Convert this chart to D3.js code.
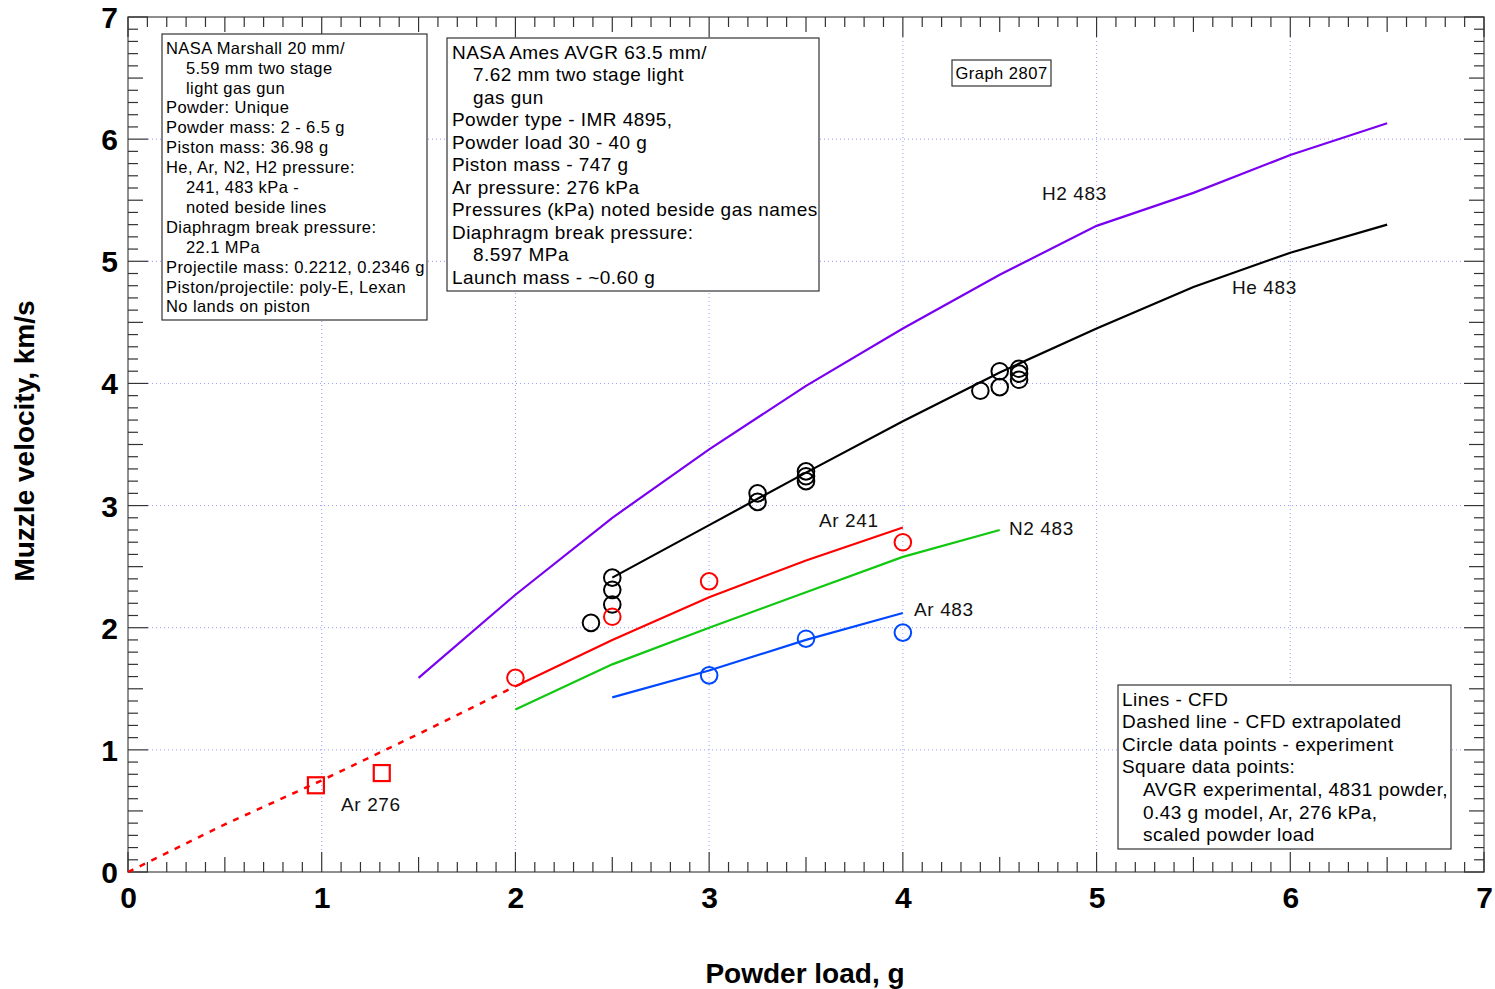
<!DOCTYPE html>
<html>
<head>
<meta charset="utf-8">
<script src="https://cdn.jsdelivr.net/npm/d3@7/dist/d3.min.js"></script>
<style>
  html, body { margin: 0; padding: 0; background: #fff; }
  svg { display: block; font-family: Arial, "Liberation Sans", sans-serif; }
</style>
</head>
<body>
<svg id="chart" width="1495" height="989"></svg>
<script>
// Axis ticks
const xTickValues = [0, 1, 2, 3, 4, 5, 6, 7];
const yTickValues = [0, 1, 2, 3, 4, 5, 6, 7];

// CFD curves (powder load g -> muzzle velocity km/s)
const h2Load = [1.5, 2.0, 2.5, 3.0, 3.5, 4.0, 4.5, 5.0, 5.5, 6.0, 6.5];
const h2Vel  = [1.59, 2.27, 2.90, 3.46, 3.98, 4.45, 4.89, 5.29, 5.56, 5.87, 6.13];

const heLoad = [2.5, 3.0, 3.5, 4.0, 4.5, 5.0, 5.5, 6.0, 6.5];
const heVel  = [2.41, 2.84, 3.27, 3.69, 4.09, 4.45, 4.79, 5.07, 5.30];

const ar241Load = [2.0, 2.5, 3.0, 3.5, 4.0];
const ar241Vel  = [1.52, 1.90, 2.25, 2.55, 2.82];

const ar241ExtLoad = [0, 0.5, 1.0, 1.5, 2.0];
const ar241ExtVel  = [0, 0.39, 0.75, 1.13, 1.52];

const n2Load = [2.0, 2.5, 3.0, 3.5, 4.0, 4.5];
const n2Vel  = [1.33, 1.70, 2.00, 2.29, 2.58, 2.80];

const ar483Load = [2.5, 3.0, 3.5, 4.0];
const ar483Vel  = [1.43, 1.65, 1.90, 2.12];

// Experimental shots
const heExpLoad = [2.39, 2.5, 2.5, 2.5, 3.25, 3.25, 3.5, 3.5, 3.5, 4.4, 4.5, 4.5, 4.6, 4.6, 4.6];
const heExpVel  = [2.04, 2.41, 2.31, 2.19, 3.10, 3.03, 3.28, 3.24, 3.20, 3.94, 4.10, 3.97, 4.12, 4.08, 4.03];

const ar241ExpLoad = [2.0, 2.5, 3.0, 4.0];
const ar241ExpVel  = [1.59, 2.09, 2.38, 2.70];

const ar483ExpLoad = [3.0, 3.5, 4.0];
const ar483ExpVel  = [1.61, 1.91, 1.96];

const avgrLoad = [0.97, 1.31];
const avgrVel  = [0.71, 0.81];

// Text blocks
const marshallLines = [
  ["NASA Marshall 20 mm/", 0],
  ["5.59 mm  two stage", 1],
  ["light gas gun", 1],
  ["Powder: Unique", 0],
  ["Powder mass: 2 - 6.5 g", 0],
  ["Piston mass: 36.98 g", 0],
  ["He, Ar, N2, H2 pressure:", 0],
  ["241, 483 kPa -", 1],
  ["noted beside lines", 1],
  ["Diaphragm break pressure:", 0],
  ["22.1 MPa", 1],
  ["Projectile mass: 0.2212, 0.2346 g", 0],
  ["Piston/projectile: poly-E, Lexan", 0],
  ["No lands on piston", 0]
];
const amesLines = [
  ["NASA Ames AVGR 63.5 mm/", 0],
  ["7.62 mm two stage light", 1],
  ["gas gun", 1],
  ["Powder type - IMR 4895,", 0],
  ["Powder load 30 - 40 g", 0],
  ["Piston mass - 747 g", 0],
  ["Ar pressure: 276 kPa", 0],
  ["Pressures (kPa) noted beside gas names", 0],
  ["Diaphragm break pressure:", 0],
  ["8.597 MPa", 1],
  ["Launch mass - ~0.60 g", 0]
];
const legendLines = [
  ["Lines - CFD", 0],
  ["Dashed line - CFD extrapolated", 0],
  ["Circle data points - experiment", 0],
  ["Square data points:", 0],
  ["AVGR experimental, 4831 powder,", 1],
  ["0.43 g model, Ar, 276 kPa,", 1],
  ["scaled powder load", 1]
];

const svg = d3.select("#chart");
const plotLeft = 128, plotRight = 1484, plotTop = 17, plotBottom = 872;

const x = d3.scaleLinear().domain([0, 7]).range([plotLeft, plotRight]);
const y = d3.scaleLinear().domain([0, 7]).range([plotBottom, plotTop]);

const zip = (a, b) => a.map((v, i) => [v, b[i]]);

// Grid (dotted, at major ticks)
const grid = svg.append("g").attr("stroke", "#9a9aff").attr("stroke-width", 1)
  .attr("stroke-dasharray", "1,3");
xTickValues.slice(1, -1).forEach(v => {
  grid.append("line").attr("x1", x(v)).attr("x2", x(v)).attr("y1", plotTop + 20).attr("y2", plotBottom - 20);
});
yTickValues.slice(1, -1).forEach(v => {
  grid.append("line").attr("y1", y(v)).attr("y2", y(v)).attr("x1", plotLeft + 20).attr("x2", plotRight - 20);
});

// Frame
svg.append("rect").attr("x", plotLeft).attr("y", plotTop)
  .attr("width", plotRight - plotLeft).attr("height", plotBottom - plotTop)
  .attr("fill", "none").attr("stroke", "#6a6a6a").attr("stroke-width", 1.5);

// Inward ticks on all four sides
const minor = d3.range(0, 70.5, 1).map(i => i / 10);
const tickLen = v => (Math.abs(v - Math.round(v)) < 1e-6 ? 20 : (Math.abs(v * 2 - Math.round(v * 2)) < 1e-6 ? 15 : 10));
const ticks = svg.append("g").attr("stroke", "#333").attr("stroke-width", 1.2);
minor.forEach(v => {
  const L = tickLen(v);
  ticks.append("line").attr("x1", x(v)).attr("x2", x(v)).attr("y1", plotBottom).attr("y2", plotBottom - L);
  ticks.append("line").attr("x1", x(v)).attr("x2", x(v)).attr("y1", plotTop).attr("y2", plotTop + L);
  ticks.append("line").attr("y1", y(v)).attr("y2", y(v)).attr("x1", plotLeft).attr("x2", plotLeft + L);
  ticks.append("line").attr("y1", y(v)).attr("y2", y(v)).attr("x1", plotRight).attr("x2", plotRight - L);
});

// Tick labels via D3 axes (tick marks drawn above)
const xAxis = svg.append("g").attr("transform", `translate(0,${plotBottom})`)
  .call(d3.axisBottom(x).tickValues(xTickValues).tickFormat(d3.format("d")).tickSize(0).tickPadding(16));
const yAxis = svg.append("g").attr("transform", `translate(${plotLeft},0)`)
  .call(d3.axisLeft(y).tickValues(yTickValues).tickFormat(d3.format("d")).tickSize(0).tickPadding(10));
[xAxis, yAxis].forEach(g => {
  g.select(".domain").remove();
  g.selectAll("text").attr("font-family", "Arial, 'Liberation Sans', sans-serif")
    .attr("font-size", 30).attr("font-weight", "bold").attr("fill", "#000");
});
xAxis.selectAll("text").attr("dy", "0.68em");
yAxis.selectAll("text").attr("dy", "0.35em");

// Axis titles
svg.append("text").attr("x", (plotLeft + plotRight) / 2 - 1).attr("y", 983).attr("text-anchor", "middle")
  .attr("font-size", 28).attr("font-weight", "bold").text("Powder load, g");
svg.append("text").attr("transform", `translate(34,441) rotate(-90)`)
  .attr("text-anchor", "middle").attr("font-size", 28).attr("font-weight", "bold")
  .text("Muzzle velocity, km/s");

// Curves
const line = d3.line().x(d => x(d[0])).y(d => y(d[1]));
const curves = [
  { data: zip(h2Load, h2Vel), color: "#7a00f0" },
  { data: zip(heLoad, heVel), color: "#000000" },
  { data: zip(ar241Load, ar241Vel), color: "#ff0000" },
  { data: zip(n2Load, n2Vel), color: "#10c810" },
  { data: zip(ar483Load, ar483Vel), color: "#0048ff" }
];
curves.forEach(c => {
  svg.append("path").attr("d", line(c.data)).attr("fill", "none")
    .attr("stroke", c.color).attr("stroke-width", 2.2);
});
svg.append("path").attr("d", line(zip(ar241ExtLoad, ar241ExtVel))).attr("fill", "none")
  .attr("stroke", "#ff0000").attr("stroke-width", 2.5).attr("stroke-dasharray", "6,7");

// Experimental circles
const circleSets = [
  { data: zip(heExpLoad, heExpVel), color: "#000" },
  { data: zip(ar241ExpLoad, ar241ExpVel), color: "#ff0000" },
  { data: zip(ar483ExpLoad, ar483ExpVel), color: "#0048ff" }
];
circleSets.forEach(s => {
  svg.append("g").selectAll("circle").data(s.data).join("circle")
    .attr("cx", d => x(d[0])).attr("cy", d => y(d[1])).attr("r", 8.3)
    .attr("fill", "none").attr("stroke", s.color).attr("stroke-width", 2);
});

// AVGR squares
svg.append("g").selectAll("rect").data(zip(avgrLoad, avgrVel)).join("rect")
  .attr("x", d => x(d[0]) - 8).attr("y", d => y(d[1]) - 8).attr("width", 16).attr("height", 16)
  .attr("fill", "none").attr("stroke", "#ff0000").attr("stroke-width", 2.2);

// Gas labels
const gasLabels = [
  ["H2 483", 4.718, 5.553],
  ["He 483", 5.699, 4.783],
  ["Ar 241", 3.567, 2.875],
  ["N2 483", 4.548, 2.817],
  ["Ar 483", 4.058, 2.154],
  ["Ar 276", 1.10, 0.557]
];
gasLabels.forEach(([t, lx, ly]) => {
  svg.append("text").attr("x", x(lx)).attr("y", y(ly)).attr("dy", "0.35em")
    .attr("font-size", 19).attr("letter-spacing", 0.6).attr("fill", "#111").text(t);
});

// Annotation boxes
function textBox(bx, by, bw, bh, lines, fs, ls, lh, firstY, indent, pad) {
  const g = svg.append("g");
  g.append("rect").attr("x", bx).attr("y", by).attr("width", bw).attr("height", bh)
    .attr("fill", "#fff").attr("stroke", "#333").attr("stroke-width", 1.2);
  lines.forEach(([t, ind], i) => {
    g.append("text").attr("x", bx + pad + (ind ? indent : 0)).attr("y", firstY + i * lh)
      .attr("dy", "0.35em").attr("font-size", fs).attr("letter-spacing", ls)
      .attr("fill", "#000").text(t);
  });
}
textBox(162, 34, 265, 286, marshallLines, 16.5, 0.42, 19.9, 48, 20, 4);
textBox(447, 38, 372, 253, amesLines, 19, 0.45, 22.5, 52, 21, 5);
textBox(1118, 685, 333, 164, legendLines, 19, 0.45, 22.6, 699, 21, 4);

svg.append("rect").attr("x", 952).attr("y", 60).attr("width", 99).attr("height", 26)
  .attr("fill", "#fff").attr("stroke", "#333").attr("stroke-width", 1.2);
svg.append("text").attr("x", 1001.5).attr("y", 73).attr("dy", "0.35em").attr("text-anchor", "middle")
  .attr("font-size", 16.5).attr("letter-spacing", 0.5).text("Graph 2807");
</script>
</body>
</html>
